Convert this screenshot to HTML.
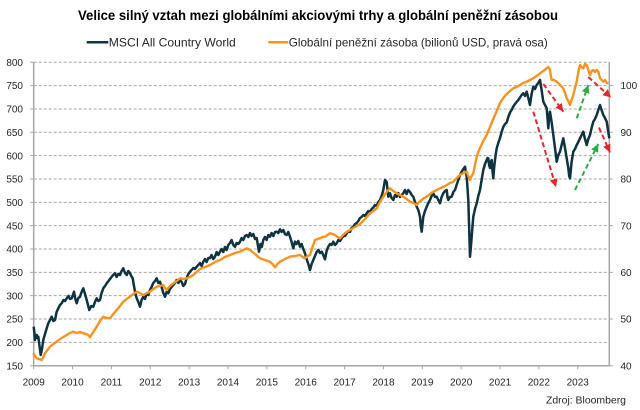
<!DOCTYPE html>
<html>
<head>
<meta charset="utf-8">
<style>
  html,body{margin:0;padding:0;background:#fff;}
  svg{display:block;font-family:"Liberation Sans",Arial,sans-serif;}
</style>
</head>
<body>
<svg width="640" height="410" viewBox="0 0 640 410" xmlns="http://www.w3.org/2000/svg">
  <defs>
    <marker id="ar" markerUnits="userSpaceOnUse" markerWidth="9" markerHeight="9" refX="8" refY="4" orient="auto">
      <path d="M0,0 L8,4 L0,8 z" fill="#e3262b"/>
    </marker>
    <marker id="ag" markerUnits="userSpaceOnUse" markerWidth="9" markerHeight="9" refX="8" refY="4" orient="auto">
      <path d="M0,0 L8,4 L0,8 z" fill="#2eaa4a"/>
    </marker>
  </defs>
  <rect width="640" height="410" fill="#fff"/>

  <text x="318" y="20" text-anchor="middle" font-size="13.5" font-weight="bold" fill="#000" textLength="480" lengthAdjust="spacingAndGlyphs">Velice silný vztah mezi globálními akciovými trhy a globální peněžní zásobou</text>

  <line x1="86.7" y1="42.3" x2="108.3" y2="42.3" stroke="#0f3340" stroke-width="2.5"/>
  <text x="108.8" y="46.3" font-size="12" fill="#262626" textLength="127" lengthAdjust="spacingAndGlyphs">MSCI All Country World</text>
  <line x1="268.3" y1="42.3" x2="288.3" y2="42.3" stroke="#f7931e" stroke-width="2.5"/>
  <text x="288.8" y="46.3" font-size="12" fill="#262626" textLength="259" lengthAdjust="spacingAndGlyphs">Globální peněžní zásoba (bilionů USD, pravá osa)</text>

  <!-- gridlines -->
  <path fill="none" stroke="#a6a6a6" stroke-width="1" stroke-dasharray="3 2"
    d="M33.7,342.36H609.3 M33.7,319.02H609.3 M33.7,295.68H609.3 M33.7,272.35H609.3 M33.7,249.01H609.3 M33.7,225.67H609.3 M33.7,202.33H609.3 M33.7,179H609.3 M33.7,155.65H609.3 M33.7,132.3H609.3 M33.7,108.97H609.3 M33.7,85.64H609.3 M33.7,62.3H609.3"/>

  <!-- ticks -->
  <path fill="none" stroke="#a6a6a6" stroke-width="1"
    d="M30.2,365.7H33.7 M30.2,342.36H33.7 M30.2,319.02H33.7 M30.2,295.68H33.7 M30.2,272.35H33.7 M30.2,249.01H33.7 M30.2,225.67H33.7 M30.2,202.33H33.7 M30.2,179H33.7 M30.2,155.65H33.7 M30.2,132.3H33.7 M30.2,108.97H33.7 M30.2,85.64H33.7 M30.2,62.3H33.7
       M609.3,365.7H612.8 M609.3,319.02H612.8 M609.3,272.35H612.8 M609.3,225.67H612.8 M609.3,179H612.8 M609.3,132.3H612.8 M609.3,85.64H612.8
       M33.7,365.7V369.2 M72.56,365.7V369.2 M111.42,365.7V369.2 M150.28,365.7V369.2 M189.14,365.7V369.2 M228,365.7V369.2 M266.86,365.7V369.2 M305.72,365.7V369.2 M344.58,365.7V369.2 M383.44,365.7V369.2 M422.3,365.7V369.2 M461.16,365.7V369.2 M500.02,365.7V369.2 M538.88,365.7V369.2 M577.74,365.7V369.2"/>

  <!-- axes -->
  <path fill="none" stroke="#a6a6a6" stroke-width="1.5" d="M33.7,62V365.7H609.3V62"/>

  <!-- left labels -->
  <g font-size="10" fill="#262626" text-anchor="end">
    <text x="23" y="369.3">150</text>
    <text x="23" y="346">200</text>
    <text x="23" y="322.6">250</text>
    <text x="23" y="299.3">300</text>
    <text x="23" y="276">350</text>
    <text x="23" y="252.6">400</text>
    <text x="23" y="229.3">450</text>
    <text x="23" y="205.9">500</text>
    <text x="23" y="182.6">550</text>
    <text x="23" y="159.3">600</text>
    <text x="23" y="135.9">650</text>
    <text x="23" y="112.6">700</text>
    <text x="23" y="89.2">750</text>
    <text x="23" y="65.9">800</text>
  </g>
  <!-- right labels -->
  <g font-size="10" fill="#262626">
    <text x="620.5" y="89.2">100</text>
    <text x="620.5" y="135.9">90</text>
    <text x="620.5" y="182.6">80</text>
    <text x="620.5" y="229.3">70</text>
    <text x="620.5" y="276">60</text>
    <text x="620.5" y="322.6">50</text>
    <text x="620.5" y="369.3">40</text>
  </g>
  <!-- x labels -->
  <g font-size="10" fill="#262626" text-anchor="middle">
    <text x="33.7" y="385.5">2009</text>
    <text x="72.56" y="385.5">2010</text>
    <text x="111.42" y="385.5">2011</text>
    <text x="150.28" y="385.5">2012</text>
    <text x="189.14" y="385.5">2013</text>
    <text x="228" y="385.5">2014</text>
    <text x="266.86" y="385.5">2015</text>
    <text x="305.72" y="385.5">2016</text>
    <text x="344.58" y="385.5">2017</text>
    <text x="383.44" y="385.5">2018</text>
    <text x="422.3" y="385.5">2019</text>
    <text x="461.16" y="385.5">2020</text>
    <text x="500.02" y="385.5">2021</text>
    <text x="538.88" y="385.5">2022</text>
    <text x="577.74" y="385.5">2023</text>
  </g>

  <!-- MSCI -->
  <polyline fill="none" stroke="#0f3340" stroke-width="2.5" stroke-linejoin="round"
    points="33.7,326.7 34.4,333 35,340 35.8,336 36.7,335 37.5,338 38.3,336.7 39.5,346 40.7,355 42,349 43.3,340 45,334 46.5,329 48.3,323.3 50,320 51.7,316.7 53.3,321 55,320 56.6,312 58.3,308.3 60,305 61.7,303.3 63.5,300 65,301 66.7,298.3 68.5,296 70,299 71.7,298.3 73,295 74,291.7 75.3,299 76.7,303.3 78.3,298 80,296.7 81.6,292 83.3,288.3 85,294 86.7,300 88,305 89.3,310 91.3,306 93.3,306.7 95,302 96.7,298.3 98.3,301 100,300 101.6,293 103.3,288.3 105,286 106.7,283.3 108.5,281 110,279 111.7,276.7 113.3,275 115,273.3 116.6,277 118.3,274 120,275 121.6,271 123.3,268.3 125,273 126.7,275 128.3,271 130,273.3 131.3,276 132.7,278.3 133.8,285 135,291.7 136.7,298.3 138.3,302 140,306.7 141.6,300 143.3,296.7 145,299 146.6,294 148.3,295 150,290 151.7,286.7 153.3,283 155,281 156.7,278.3 158.3,283 160,281.7 161.6,287 163.3,293 165,296.7 166.6,292 168.3,293.3 170,289 171.6,287 173.3,285 175,283 176.6,280 178.3,283 180,280 181.7,282 183.3,286 185,284 186.7,278 188.3,274 190,271.7 191.6,270 193.3,268 195,269 196.7,266.7 198.3,265 200,263 201.6,266 203.3,261.7 205,259 206.6,262 208.3,258 210,258 211.6,255 213.3,259 215,256.7 216.6,252 218.3,255 220,251.7 221.6,249 223.3,252 225,247 226.6,250 228.3,245 230,243 231.6,240 233.3,245 235,246.7 236.6,243 238.3,244 240,241.7 241.6,238 243.3,240 245,236 246.7,235 248.3,237 250,233 251.6,236 253.3,234 255,239 256.7,238 258,246 259,251.7 260.5,244 261.8,247 263.3,240 265,237 266.6,240 268.3,235 270,236.7 271.6,233 273.3,236 275,232 276.7,231.7 278.3,233 280,229.3 281.6,232 283.3,230 285,234 286.7,235 288.3,232 290,236.7 291.6,242 293.3,248.3 295,241.7 296.6,244 298.3,241 300,246.7 301.6,244 303.3,249 305,253.3 306.6,259 308.3,264 310,270 311.6,264 313.3,260 315,256 316.6,252 318.3,250 320,253 321.7,251.7 323.3,255 325,259.3 326.6,251 328.3,246.7 330,244 331.6,245 333.3,241.7 335,245 336.7,243.3 338.3,240 340,241 341.7,238.3 343.3,236 345,236 346.7,233.3 348.3,231 350,232 351.6,228 353.3,226.7 355,224 356.6,223 358.3,221 360,218 361.6,217 363.3,215 365,216 366.7,213.3 368.3,211 370,212 371.6,209 373.3,207.5 375,205 376.6,206 378.3,202 380,200 381.6,196 383.3,190 385,180 386.7,182 388.3,196.7 390,193.3 391.6,198 393.3,200 395,195 396.7,196.7 398.3,193 400,197 401.6,195 403.3,193.3 405,190 406.6,194 408.3,190 410,192 411.7,195 413.3,196.7 415,202 416.7,206.7 418.3,210 420,216.7 420.8,226 421.7,231.7 422.5,224 423.3,216.7 425,211 426.7,206.7 428.3,203 430,200 431.6,196 433.3,193.3 435,197 436.7,196.7 438.3,200 440,203.3 441.6,197 443.3,193.3 445,191 446.7,190 447.5,197 448.3,200 450,197 451.7,196.7 453.3,192 455,190 456.6,185 458.3,180 460,175 461.7,171.7 463.3,169 465,166.7 465.8,172 466.7,176.7 467.5,188 468.3,200 469.2,230 470,256.7 470.8,248 471.7,236.7 472.5,226 473.3,216.7 475,209 476.7,203.3 478.3,196 480,190 481.6,180 483.3,170 485,164 486.7,160 487.5,158 488.3,158.3 489.1,165 490,168 490.8,162 491.7,160 492.5,171 493.3,178.3 494.1,168 495,160 495.8,154 496.7,148.3 498.3,143 500,138 501.6,132 503.3,127 505,124 506.7,122.5 508.3,117 510,112.5 511.6,110 513.3,106.5 515,104 516.6,102 518.3,100 520,97.5 521.6,95 523.3,93.3 525,96 526.7,91.7 528.3,98 530,105 531.6,94 533.3,86.7 535,89 536.7,85 538.3,83 540,80 541.6,90 543.3,101.7 545,105 546.7,108.3 547.5,118 548.3,128.3 549.1,118 550,111.7 551.6,122 553.3,135 555,148 556.7,161.7 558.3,155 560,151.7 561.6,145 563.3,138.3 565,148 566.7,158.3 568.3,168 569.2,176 570,178.3 571.6,162 573.3,151.7 575,149 576.7,145 578.3,142 580,138.3 581.6,135 583.3,131.7 585,139 586.7,145 588.3,139 590,135 591.6,128 593.3,121.7 595,119 596.7,115 598.3,110 600,105 601.6,110 603.3,115 605,118 606.7,121.7 608,130 609.3,138.3"/>

  <!-- Global money supply -->
  <polyline fill="none" stroke="#f7931e" stroke-width="2.4" stroke-linejoin="round"
    points="33.3,353.3 35,356 36.7,358.3 39,359 41.7,360 43.3,357 45,353.3 47.5,350 50,346.7 53.3,344 56.7,341.7 60,339 63.3,337 66.7,335 70,333 73.3,331.7 76.6,333 80,332 83.3,333.3 86,334 88.3,335 90,337.3 93.3,332 96.7,326.7 100,321 103.3,316.7 106.7,318 110,318.3 113.3,314 116.7,310 120,306 123.3,301.7 126.7,299 130,296.7 133.3,294 136.7,291.7 140,293 143.3,295 146.7,293 150,291.7 153.3,289 156.7,286.7 160,286 163.3,285 165,288 166.7,290 170,286 173.3,283.3 176.7,281 180,278.3 183.3,279 186.7,278.3 190,277 193.3,275 196.7,272 200,269 205,267 210,265 215,262 220,260 225,257 230,255 235,253 240,251.7 243.3,250 246.7,248.3 250,250 255,254 260,258.3 265,260 270,261.7 272.5,264 275,267.3 277.5,264 280,261.7 285,259 290,256.7 295,256 300,255 302.5,257 305,258.3 307.5,256 310,255 312.5,247 315,240 317.5,239 320,238.3 322.5,237 325,236.7 327.5,235 330,233.3 332.5,234 335,235 337.5,237 340,238.3 343,235 346.5,232 350,230 355,227 360,224 365,219 370,213.3 373.3,211 376.7,208.3 380,202 383.3,196.7 386.7,192 390,188.3 393.3,191 396.7,193.3 400,195 403.3,196.7 406.7,199 410,201.7 413.3,203 416.7,205 419,202 421.7,200 424,198 426.7,196.7 430,194 433.3,191.7 436.7,190 440,188.3 443.3,187 446.7,185 450,183 453.3,181.7 456.7,178 460,175 463.3,173 466.7,171.7 468.3,176 470,180 471.6,176 473.3,173.3 475,165 476.7,156.7 478.3,152 480,148 483.3,141 486.7,135 490,127 493.3,119 496.7,111 500,103 503.3,98 506.7,94 510,91 513.3,88.3 516.7,87 520,85 523.3,83 526.7,81.7 530,80 533.3,78.3 536.7,76 540,73.3 543.3,71 546.7,68.3 548.3,67 550,70 550.8,76 551.7,80 554,80 556.7,81.7 560,85 563.3,88.3 565,93 566.7,98.3 568.3,101 570,105 571.6,100 573.3,95 575,88 576.7,81.7 578.3,72 580,65 581.6,67 583.3,68.3 585,64 586.7,65 588.3,70 590,75 591.6,71 593.3,70 595,72 596.7,70 598.3,71.7 600,78.3 601.6,80 603.3,81.7 605,80 606.7,83 608.3,83.3"/>

  <!-- arrows -->
  <g stroke-width="2" stroke-dasharray="5 3" fill="none">
    <line x1="543.3" y1="84" x2="563.3" y2="111.7" stroke="#e3262b" marker-end="url(#ar)"/>
    <line x1="533.3" y1="111.7" x2="556" y2="187" stroke="#e3262b" marker-end="url(#ar)"/>
    <line x1="576.7" y1="118.3" x2="588.3" y2="85" stroke="#2eaa4a" marker-end="url(#ag)"/>
    <line x1="575" y1="190" x2="598.3" y2="144" stroke="#2eaa4a" marker-end="url(#ag)"/>
    <line x1="588.3" y1="77" x2="611" y2="97.5" stroke="#e3262b" marker-end="url(#ar)"/>
    <line x1="599" y1="127.5" x2="610" y2="152.5" stroke="#e3262b" marker-end="url(#ar)"/>
  </g>

  <text x="546" y="403.5" font-size="10.5" fill="#262626" textLength="80" lengthAdjust="spacingAndGlyphs">Zdroj: Bloomberg</text>
</svg>
</body>
</html>
